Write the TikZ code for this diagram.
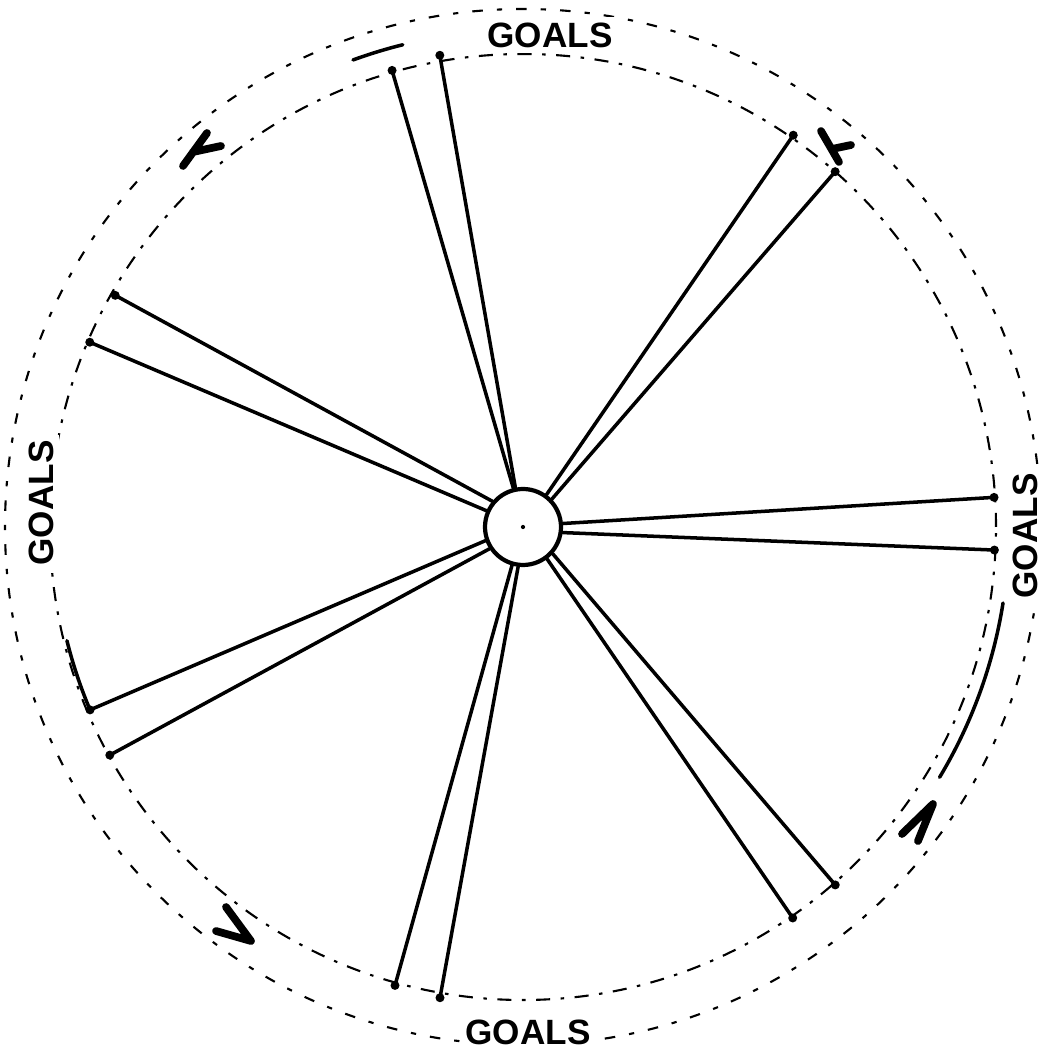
\documentclass[tikz,border=0pt]{standalone}
\usepackage{fontspec}
\setsansfont{Liberation Sans}
\usepackage{tikz}
\usetikzlibrary{arrows.meta,calc}
\tikzset{
  spoke/.style={line width=1pt, line cap=round},
  spokeend/.style={circle, fill=black, inner sep=0pt, minimum size=0.9mm},
  hubring/.style={circle, draw, line width=1.2pt, minimum size=7.6mm, inner sep=0pt},
  innerring/.style={line width=0.6pt, dash pattern=on 4pt off 3pt on 1pt off 3pt},
  outerring/.style={line width=0.6pt, dash pattern=on 1.5pt off 4pt on 3pt off 4pt},
  boldarc/.style={line width=1pt, line cap=round},
  chevron/.style={line width=2.2pt, line cap=round, line join=round},
  goal/.style={font=\sffamily\bfseries\fontsize{10}{12}\selectfont, fill=white, inner sep=1.5pt},
}
\begin{document}
\begin{tikzpicture}
\useasboundingbox (-5.23,-5.30) rectangle (5.18,5.27);
% rings
\draw[outerring] (0,0) circle (5.18);
\draw[innerring] (0,0) circle (4.73);
\draw[boldarc] (-157:4.70) arc (-157:-166:4.70);
\draw[boldarc] (-9:4.86) arc (-9:-31:4.86);
\draw[boldarc] (104:4.97) arc (104:110:4.97);
% hub
\node[hubring] (hub) at (0,0) {};
\fill (0,0) circle (0.6pt);
% spoke ends
\coordinate (s1a) at (106.0:4.75);
\coordinate (s1b) at (100.0:4.79);
\coordinate (s2a) at (55.4:4.76);
\coordinate (s2b) at (48.7:4.73);
\coordinate (s3a) at (3.6:4.72);
\coordinate (s3b) at (-2.8:4.72);
\coordinate (s4a) at (-48.9:4.75);
\coordinate (s4b) at (-55.4:4.75);
\coordinate (s5a) at (-100.0:4.78);
\coordinate (s5b) at (-105.6:4.76);
\coordinate (s6a) at (-151.1:4.72);
\coordinate (s6b) at (-157.1:4.70);
\coordinate (s7a) at (156.9:4.71);
\coordinate (s7b) at (150.4:4.69);
% spokes
\draw[spoke] (hub.104) -- (s1a);
\draw[spoke] (hub.101) -- (s1b);
\draw[spoke] (hub.54) -- (s2a);
\draw[spoke] (hub.44) -- (s2b);
\draw[spoke] (hub.5) -- (s3a);
\draw[spoke] (hub.-8) -- (s3b);
\draw[spoke] (hub.-42) -- (s4a);
\draw[spoke] (hub.-53) -- (s4b);
\draw[spoke] (hub.-97) -- (s5a);
\draw[spoke] (hub.-106) -- (s5b);
\draw[spoke] (hub.-147) -- (s6a);
\draw[spoke] (hub.-160) -- (s6b);
\draw[spoke] (hub.156) -- (s7a);
\draw[spoke] (hub.140) -- (s7b);
\foreach \e in {s1a,s1b,s2a,s2b,s3a,s3b,s4a,s4b,s5a,s5b,s6a,s6b,s7a,s7b}
  \node[spokeend] at (\e) {};
% direction marks
\draw[chevron] (-3.16,3.94) -- (-3.40,3.61) (-3.30,3.75) -- (-3.02,3.81);
\draw[chevron] (3.16,3.65) -- (2.98,3.96) (3.09,3.78) -- (3.28,3.82);
\draw[chevron] (3.79,-3.07) -- (4.10,-2.77) -- (3.95,-3.14);
\draw[chevron] (-2.97,-3.80) -- (-2.72,-4.14) -- (-3.07,-4.04);
% labels
\node[goal] (gtop) at (0.27,4.92) {GOALS};
\node[goal] (gbot) at (0.05,-5.05) {GOALS};
\node[goal, rotate=90] (gleft) at (-4.82,0.24) {GOALS};
\node[goal, rotate=90] (gright) at (5.02,-0.09) {GOALS};
\end{tikzpicture}
\end{document}
